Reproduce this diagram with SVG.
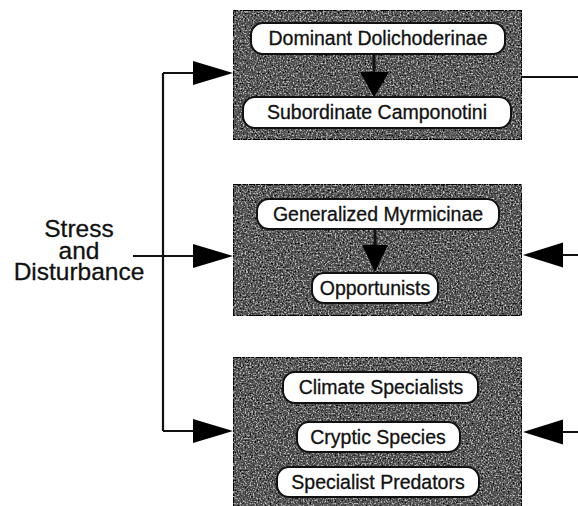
<svg xmlns="http://www.w3.org/2000/svg" width="578" height="506" viewBox="0 0 578 506">
<style>
.box{fill:#7a7a7a;stroke:#111;stroke-width:2;filter:url(#grain)}
.pill{fill:#fff;stroke:#111;stroke-width:2}
.pt{font-family:"Liberation Sans",Arial,sans-serif;font-size:19.5px;fill:#111;stroke:#111;stroke-width:0.3;text-anchor:middle}
.lt{font-family:"Liberation Sans",Arial,sans-serif;font-size:24.5px;fill:#111;stroke:#111;stroke-width:0.3;text-anchor:middle}
.ln{stroke:#111;stroke-width:2.2;fill:none}
.ah{fill:#000}
</style>
<defs>
<filter id="grain" x="0" y="0" width="100%" height="100%">
<feTurbulence type="fractalNoise" baseFrequency="0.6" numOctaves="2" seed="3" result="n"/>
<feColorMatrix in="n" type="matrix" values="0 0 0 0 0  0 0 0 0 0  0 0 0 0 0  0 0 0 -1.8 1.4" result="dark"/>
<feColorMatrix in="n" type="matrix" values="0 0 0 0 1  0 0 0 0 1  0 0 0 0 1  0 0 0 1.8 -1.0" result="light"/>
<feComposite in="dark" in2="SourceGraphic" operator="in" result="d2"/>
<feComposite in="light" in2="SourceGraphic" operator="in" result="l2"/>
<feMerge><feMergeNode in="SourceGraphic"/><feMergeNode in="d2"/><feMergeNode in="l2"/></feMerge>
</filter>
</defs>
<g id="connectors">
<path class="ln" d="M163 73 V431 M163 73 H195 M133 256 H195 M163 431 H195"/>
<polygon class="ah" points="233,73 193,61 193,85"/>
<polygon class="ah" points="233,256 193,244 193,268"/>
<polygon class="ah" points="233,431 193,419 193,443"/>
<path class="ln" d="M522 77 H578 M561 255 H578 M561 432 H578"/>
<polygon class="ah" points="523,255 563,242.5 563,267.5"/>
<polygon class="ah" points="523,432 563,419.5 563,444.5"/>
</g>
<g id="stress">
<text class="lt"><tspan x="79" y="237">Stress</tspan><tspan x="79" y="259">and</tspan><tspan x="79" y="280">Disturbance</tspan></text>
</g>
<g id="box1">
<rect class="box" x="233" y="10" width="289" height="130"/>
<rect class="pill" x="251" y="23" width="254" height="31" rx="12"/>
<text class="pt" x="378" y="45">Dominant Dolichoderinae</text>
<line class="ln" x1="374" y1="54" x2="374" y2="74" style="stroke-width:3"/>
<polygon class="ah" points="360,72 389,72 374,97"/>
<rect class="pill" x="243" y="97" width="268" height="31" rx="12"/>
<text class="pt" x="377" y="119">Subordinate Camponotini</text>
</g>
<g id="box2">
<rect class="box" x="233" y="184" width="289" height="132"/>
<rect class="pill" x="257" y="199" width="242" height="30" rx="12"/>
<text class="pt" x="378" y="221">Generalized Myrmicinae</text>
<line class="ln" x1="375" y1="229" x2="375" y2="247" style="stroke-width:3"/>
<polygon class="ah" points="362,245 388,245 375,272"/>
<rect class="pill" x="312" y="273" width="126" height="30" rx="12"/>
<text class="pt" x="375" y="295">Opportunists</text>
</g>
<g id="box3">
<rect class="box" x="233" y="357" width="289" height="155"/>
<rect class="pill" x="283" y="372" width="195" height="31" rx="12"/>
<text class="pt" x="381" y="394">Climate Specialists</text>
<rect class="pill" x="297" y="422" width="163" height="30" rx="12"/>
<text class="pt" x="378" y="444">Cryptic Species</text>
<rect class="pill" x="277" y="467" width="202" height="30" rx="12"/>
<text class="pt" x="378" y="489">Specialist Predators</text>
</g>
</svg>
